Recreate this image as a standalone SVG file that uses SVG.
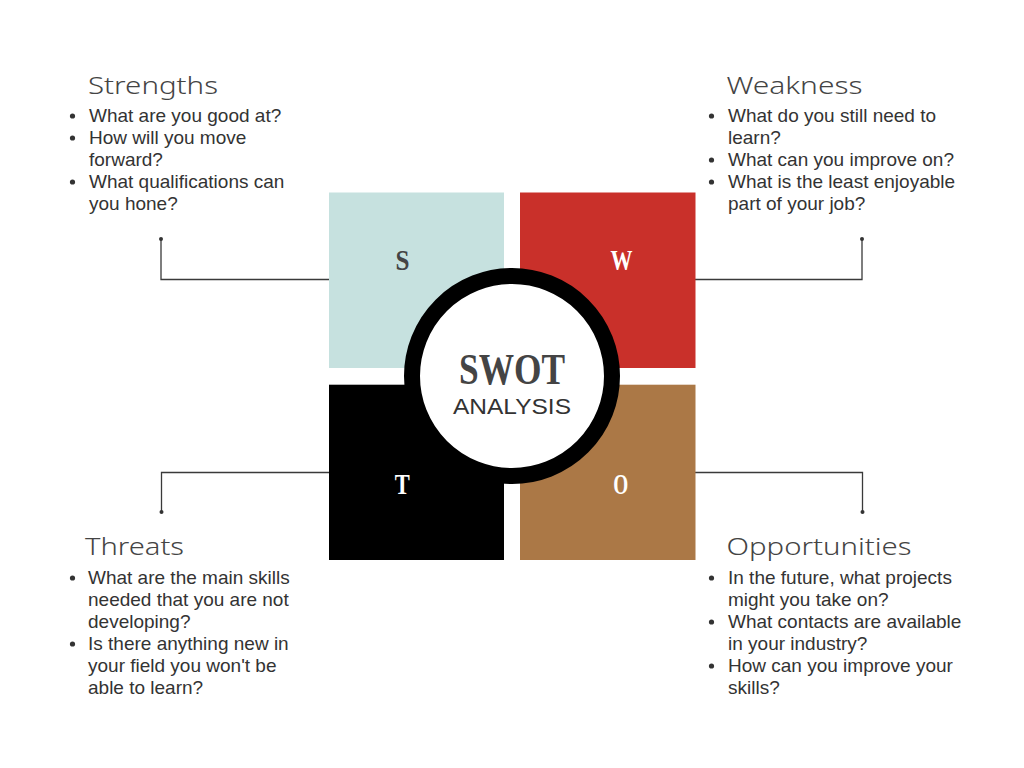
<svg xmlns="http://www.w3.org/2000/svg" width="1024" height="768" viewBox="0 0 1024 768">
<style>
.hd{font-family:"Noto Sans","Liberation Sans",sans-serif;font-weight:300;font-size:24px;fill:#444}
.tx{font-family:"Liberation Sans","Noto Sans",sans-serif;font-size:19px;fill:#333}
.bl{fill:#333}
.lt{font-family:"Liberation Serif","DejaVu Serif",serif;font-weight:bold;font-size:29px;text-anchor:middle}
.cn{fill:none;stroke:#3a3a3a;stroke-width:1.3}
.dt{fill:#333}
</style>
<rect width="1024" height="768" fill="#fff"/>
<g id="connectors">
<polyline class="cn" points="161,239 161,279.5 329,279.5"/>
<circle class="dt" cx="161" cy="239" r="2"/>
<polyline class="cn" points="862,239 862,279.5 695,279.5"/>
<circle class="dt" cx="862" cy="239" r="2"/>
<polyline class="cn" points="161.5,512 161.5,472.5 329,472.5"/>
<circle class="dt" cx="161.5" cy="512" r="2"/>
<polyline class="cn" points="862.5,512 862.5,472.5 695,472.5"/>
<circle class="dt" cx="862.5" cy="512" r="2"/>
</g>
<g id="node-s">
<rect x="329" y="192.5" width="175" height="175.5" fill="#c6e1df"/>
<text class="lt" x="402.5" y="270" fill="#444" textLength="14" lengthAdjust="spacingAndGlyphs">S</text>
</g>
<g id="node-w">
<rect x="520" y="192.5" width="175.5" height="175.5" fill="#c9302a"/>
<text class="lt" x="621.5" y="270" fill="#fff" textLength="22" lengthAdjust="spacingAndGlyphs">W</text>
</g>
<g id="node-t">
<rect x="329" y="384.7" width="175" height="175.3" fill="#000"/>
<text class="lt" x="402.3" y="494" fill="#fff" textLength="15" lengthAdjust="spacingAndGlyphs">T</text>
</g>
<g id="node-o">
<rect x="520" y="384.7" width="175.5" height="175.3" fill="#ab7846"/>
<text class="lt" x="620.7" y="494" fill="#fff" textLength="15" lengthAdjust="spacingAndGlyphs">O</text>
</g>
<g id="center">
<circle cx="512" cy="376" r="100" fill="#fff" stroke="#000" stroke-width="16"/>
<text x="512" y="384" text-anchor="middle" font-family="Liberation Serif,DejaVu Serif,serif" font-weight="bold" font-size="45" fill="#444" textLength="106" lengthAdjust="spacingAndGlyphs">SWOT</text>
<text x="512" y="414" text-anchor="middle" font-family="Liberation Sans,Arial,sans-serif" font-size="22" fill="#333" textLength="118" lengthAdjust="spacingAndGlyphs">ANALYSIS</text>
</g>
<g id="strengths">
<text class="hd" x="88" y="93.5" textLength="130" lengthAdjust="spacingAndGlyphs">Strengths</text>
<circle class="bl" cx="72.5" cy="116" r="2.6"/>
<circle class="bl" cx="72.5" cy="138" r="2.6"/>
<circle class="bl" cx="72.5" cy="182" r="2.6"/>
<text class="tx" x="89" y="122">What are you good at?</text>
<text class="tx" x="89" y="144">How will you move</text>
<text class="tx" x="89" y="166">forward?</text>
<text class="tx" x="89" y="188">What qualifications can</text>
<text class="tx" x="89" y="210">you hone?</text>
</g>
<g id="weakness">
<text class="hd" x="726.5" y="93.5" textLength="136" lengthAdjust="spacingAndGlyphs">Weakness</text>
<circle class="bl" cx="711.5" cy="116" r="2.6"/>
<circle class="bl" cx="711.5" cy="160" r="2.6"/>
<circle class="bl" cx="711.5" cy="182" r="2.6"/>
<text class="tx" x="728" y="122">What do you still need to</text>
<text class="tx" x="728" y="144">learn?</text>
<text class="tx" x="728" y="166">What can you improve on?</text>
<text class="tx" x="728" y="188">What is the least enjoyable</text>
<text class="tx" x="728" y="210">part of your job?</text>
</g>
<g id="threats">
<text class="hd" x="85" y="554.5" textLength="99" lengthAdjust="spacingAndGlyphs">Threats</text>
<circle class="bl" cx="72.5" cy="578" r="2.6"/>
<circle class="bl" cx="72.5" cy="644" r="2.6"/>
<text class="tx" x="88" y="584">What are the main skills</text>
<text class="tx" x="88" y="606">needed that you are not</text>
<text class="tx" x="88" y="628">developing?</text>
<text class="tx" x="88" y="650">Is there anything new in</text>
<text class="tx" x="88" y="672">your field you won't be</text>
<text class="tx" x="88" y="694">able to learn?</text>
</g>
<g id="opportunities">
<text class="hd" x="726.5" y="554.5" textLength="185" lengthAdjust="spacingAndGlyphs">Opportunities</text>
<circle class="bl" cx="711.5" cy="578" r="2.6"/>
<circle class="bl" cx="711.5" cy="622" r="2.6"/>
<circle class="bl" cx="711.5" cy="666" r="2.6"/>
<text class="tx" x="728" y="584">In the future, what projects</text>
<text class="tx" x="728" y="606">might you take on?</text>
<text class="tx" x="728" y="628">What contacts are available</text>
<text class="tx" x="728" y="650">in your industry?</text>
<text class="tx" x="728" y="672">How can you improve your</text>
<text class="tx" x="728" y="694">skills?</text>
</g>
</svg>
